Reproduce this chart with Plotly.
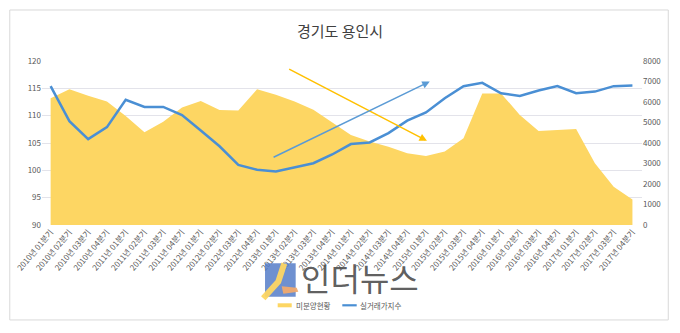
import plotly.graph_objects as go

quarters = [
    "2010년 01분기", "2010년 02분기", "2010년 03분기", "2010년 04분기",
    "2011년 01분기", "2011년 02분기", "2011년 03분기", "2011년 04분기",
    "2012년 01분기", "2012년 02분기", "2012년 03분기", "2012년 04분기",
    "2013년 01분기", "2013년 02분기", "2013년 03분기", "2013년 04분기",
    "2014년 01분기", "2014년 02분기", "2014년 03분기", "2014년 04분기",
    "2015년 01분기", "2015년 02분기", "2015년 03분기", "2015년 04분기",
    "2016년 01분기", "2016년 02분기", "2016년 03분기", "2016년 04분기",
    "2017년 01분기", "2017년 02분기", "2017년 03분기", "2017년 04분기",
]

# 미분양현황 (right axis)
unsold = [6180, 6620, 6310, 6020, 5320, 4520, 5040, 5730,
          6050, 5610, 5590, 6620, 6350, 6020, 5620, 4990,
          4390, 4070, 3820, 3500, 3370, 3580, 4230, 6420,
          6420, 5370, 4590, 4630, 4680, 3010, 1870, 1250]

# 실거래가지수 (left axis)
price_index = [115.4, 109.0, 105.7, 107.9, 112.9, 111.6, 111.6, 110.1,
               107.3, 104.4, 101.0, 100.1, 99.8, 100.5, 101.3, 102.9,
               104.8, 105.1, 106.8, 109.1, 110.6, 113.2, 115.4, 116.0,
               114.1, 113.6, 114.6, 115.4, 114.1, 114.4, 115.4, 115.5]

series_names = ["미분양현황", "실거래가지수"]
left_ticks = [90, 95, 100, 105, 110, 115, 120]
right_ticks = [0, 1000, 2000, 3000, 4000, 5000, 6000, 7000, 8000]

FONT = "Noto Sans CJK KR"
TICK_COLOR = "#595959"
YELLOW = "#fdd663"
BLUE = "#4a8fd4"

fig = go.Figure()
fig.add_trace(go.Scatter(
    x=quarters, y=unsold, name=series_names[0], mode="lines",
    line=dict(width=0, color=YELLOW), fill="tozeroy", fillcolor=YELLOW,
    yaxis="y",
))
fig.add_trace(go.Scatter(
    x=quarters, y=price_index, name=series_names[1], mode="lines",
    line=dict(width=2.5, color=BLUE),
    yaxis="y2",
))

annotations = [
    # yellow arrow (downward)
    dict(x=20.05, y=105.4, ax=12.63, ay=118.66, xref="x", yref="y2", axref="x", ayref="y2",
         showarrow=True, arrowhead=2, arrowsize=1, arrowwidth=1.5, arrowcolor="#ffc000", text=""),
    # blue arrow (upward)
    dict(x=20.2, y=116.25, ax=11.8, ay=102.26, xref="x", yref="y2", axref="x", ayref="y2",
         showarrow=True, arrowhead=2, arrowsize=1, arrowwidth=1.5, arrowcolor="#5b9bd5", text=""),
    # watermark text
    dict(x=0.5307, y=-0.317, xref="paper", yref="paper", text="인더뉴스", showarrow=False,
         font=dict(family=FONT, size=32, color="rgba(75,75,75,0.9)"),
         xanchor="center", yanchor="middle"),
    # legend texts
    dict(x=0.4205, y=-0.49, xref="paper", yref="paper", text=series_names[0], showarrow=False,
         font=dict(family=FONT, size=7.5, color=TICK_COLOR), xanchor="left", yanchor="middle"),
    dict(x=0.5272, y=-0.49, xref="paper", yref="paper", text=series_names[1], showarrow=False,
         font=dict(family=FONT, size=7.5, color=TICK_COLOR), xanchor="left", yanchor="middle"),
]

shapes = [
    # outer chart border
    dict(type="rect", xref="paper", yref="paper", x0=-0.0537, x1=1.0438, y0=-0.579, y1=1.311,
         line=dict(color="#d9d9d9", width=1), fillcolor="rgba(0,0,0,0)", layer="below"),
    # watermark logo
    dict(type="rect", xref="paper", yref="paper", x0=0.3717, x1=0.4228, y0=-0.4372, y1=-0.2335,
         line=dict(width=0), fillcolor="rgba(85,125,200,0.85)", layer="above"),
    dict(type="path", xref="paper", yref="paper",
         path="M 0.4038,-0.2348 L 0.3938,-0.3457 L 0.3688,-0.4470",
         line=dict(color="rgba(253,214,99,0.95)", width=6), layer="above"),
    dict(type="path", xref="paper", yref="paper",
         path="M 0.3995,-0.3732 L 0.4245,-0.3829 L 0.4272,-0.4073 L 0.4022,-0.4195 Z",
         line=dict(width=0), fillcolor="rgba(240,170,110,0.95)", layer="above"),
    # legend markers
    dict(type="rect", xref="paper", yref="paper", x0=0.3928, x1=0.4162, y0=-0.5018, y1=-0.4774,
         line=dict(width=0), fillcolor=YELLOW, layer="above"),
    dict(type="line", xref="paper", yref="paper", x0=0.5005, x1=0.5245, y0=-0.4896, y1=-0.4896,
         line=dict(color=BLUE, width=2.2), layer="above"),
]

fig.update_layout(
    width=680, height=333,
    margin=dict(l=42, r=38, t=61, b=108),
    paper_bgcolor="white", plot_bgcolor="white",
    font=dict(family=FONT, size=8, color=TICK_COLOR),
    title=dict(text="경기도 용인시", x=0.5, xanchor="center", y=0.905, yanchor="middle",
               font=dict(family=FONT, size=15, color="#404040")),
    xaxis=dict(type="category", range=[-0.46, 31.51], tickangle=-50,
               showgrid=False, showline=False, ticks="", zeroline=False,
               tickfont=dict(size=8, color=TICK_COLOR)),
    yaxis=dict(side="right", range=[0, 8000], tickvals=right_ticks, showgrid=False,
               zeroline=False, showline=False, ticks="",
               tickfont=dict(size=8, color=TICK_COLOR)),
    yaxis2=dict(side="left", overlaying="y", range=[90, 120], tickvals=left_ticks,
                showgrid=True, gridcolor="#e3e3ea", gridwidth=1, zeroline=False,
                showline=False, ticks="", tickfont=dict(size=8, color=TICK_COLOR)),
    showlegend=False,
    annotations=annotations,
    shapes=shapes,
)

fig.write_html("out.html")
